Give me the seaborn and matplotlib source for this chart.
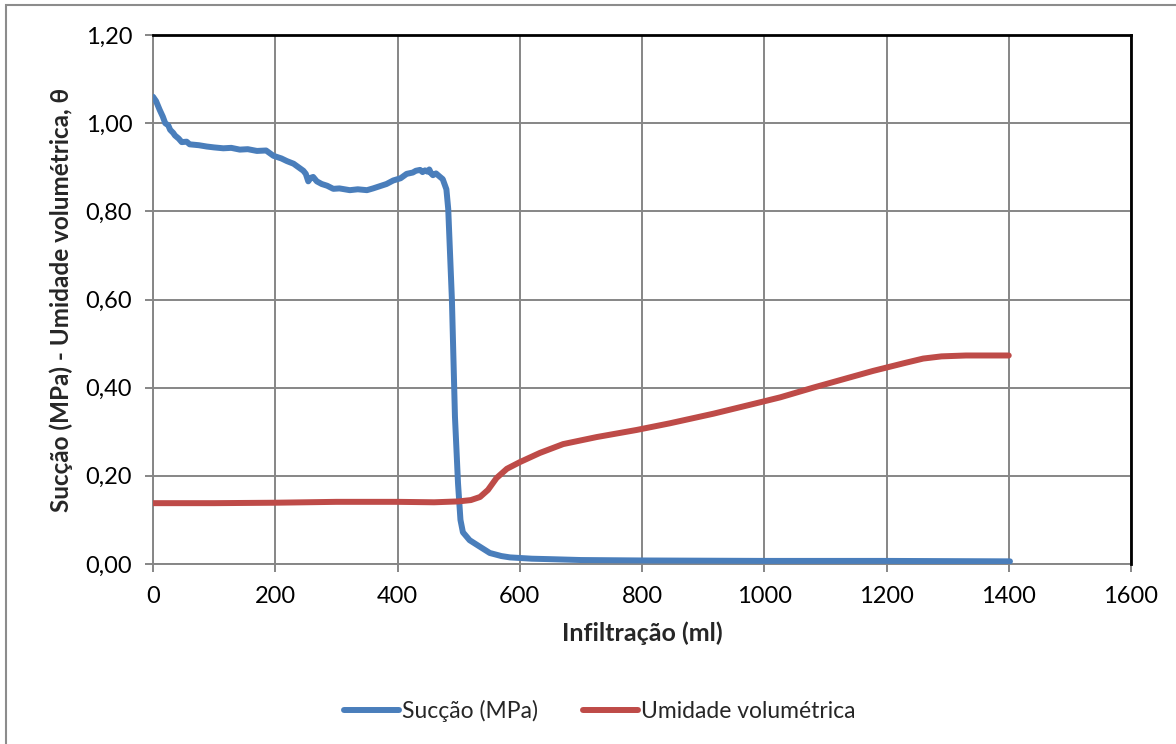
import matplotlib
matplotlib.use("Agg")
import matplotlib.pyplot as plt
from matplotlib.ticker import FuncFormatter
from matplotlib.lines import Line2D
from matplotlib.patches import Rectangle
import pandas as pd
import seaborn as sns

# Suction curve (MPa) versus infiltrated volume (ml)
infiltracao_succao = [0, 5, 11, 16, 20, 25, 28, 33, 36, 42, 47, 55, 60, 75, 88, 100, 115,
                      128, 142, 155, 170, 185, 197, 210, 219, 230, 240, 246, 250, 254,
                      258, 262, 268, 276, 285, 295, 305, 322, 335, 350, 360, 371, 382,
                      393, 405, 415, 425, 430, 437, 441, 445, 449, 452, 455, 458, 463,
                      468, 474, 480, 483, 489, 494, 499, 503, 507, 518, 535, 551, 570,
                      584, 620, 649, 700, 800, 1000, 1200, 1402]
succao = [1.06, 1.05, 1.03, 1.015, 1.00, 0.995, 0.985, 0.978, 0.972, 0.965, 0.957,
          0.958, 0.952, 0.950, 0.947, 0.945, 0.943, 0.944, 0.940, 0.941, 0.937, 0.938,
          0.926, 0.920, 0.914, 0.908, 0.898, 0.892, 0.885, 0.868, 0.876, 0.878, 0.868,
          0.862, 0.858, 0.851, 0.852, 0.848, 0.850, 0.848, 0.852, 0.857, 0.862, 0.870,
          0.875, 0.885, 0.888, 0.892, 0.894, 0.889, 0.893, 0.890, 0.895, 0.886, 0.882,
          0.886, 0.880, 0.873, 0.850, 0.805, 0.600, 0.334, 0.183, 0.100, 0.072, 0.054,
          0.039, 0.025, 0.018, 0.015, 0.012, 0.011, 0.009, 0.008, 0.007, 0.007, 0.006]

# Volumetric water content versus infiltrated volume (ml)
infiltracao_umidade = [0, 100, 200, 300, 400, 460, 500, 520, 535, 548, 562, 579, 600,
                       633, 671, 726, 791, 845, 917, 985, 1026, 1080, 1178, 1230, 1260,
                       1290, 1330, 1400]
umidade = [0.138, 0.138, 0.139, 0.141, 0.141, 0.140, 0.142, 0.145, 0.152, 0.168, 0.195,
           0.216, 0.231, 0.252, 0.272, 0.288, 0.304, 0.319, 0.341, 0.364, 0.378, 0.400,
           0.438, 0.456, 0.466, 0.471, 0.473, 0.473]

serie_nomes = ["Sucção (MPa)", "Umidade volumétrica"]
cores = ["#4A7EBB", "#BE4B48"]

x_ticks = [0, 200, 400, 600, 800, 1000, 1200, 1400, 1600]
y_ticks = [0.0, 0.2, 0.4, 0.6, 0.8, 1.0, 1.2]

df = pd.concat([
    pd.DataFrame({"x": infiltracao_succao, "y": succao, "serie": serie_nomes[0]}),
    pd.DataFrame({"x": infiltracao_umidade, "y": umidade, "serie": serie_nomes[1]}),
], ignore_index=True)

sns.set_theme(style="white")
plt.rcParams["font.family"] = ["Lato", "DejaVu Sans"]

fig = plt.figure(figsize=(11.76, 7.44), dpi=100)
ax = fig.add_axes([153 / 1176, 1 - 564 / 744, (1131 - 153) / 1176, (564 - 35) / 744])

# Chart-area border
fig.patches.append(Rectangle((6 / 1176, -0.1), 1.2, 1 - 5 / 744 + 0.1,
                             transform=fig.transFigure, fill=False,
                             edgecolor="#8c8c8c", linewidth=1.5, zorder=0))

lw = 4.3
sns.lineplot(data=df, x="x", y="y", hue="serie", palette=cores, hue_order=serie_nomes,
             linewidth=lw, sort=False, estimator=None, legend=False, ax=ax,
             solid_capstyle="round", solid_joinstyle="round", zorder=3)

ax.set_xlim(0, 1600)
ax.set_ylim(0, 1.2)
ax.set_xticks(x_ticks)
ax.set_yticks(y_ticks)
ax.yaxis.set_major_formatter(FuncFormatter(lambda v, p: f"{v:.2f}".replace(".", ",")))
ax.xaxis.set_major_formatter(FuncFormatter(lambda v, p: f"{int(v)}"))

ax.grid(True, color="#868686", linewidth=1.4)
ax.set_axisbelow(True)
for s in ["left", "bottom"]:
    ax.spines[s].set_color("#868686")
    ax.spines[s].set_linewidth(1.4)
for s in ["top", "right"]:
    ax.spines[s].set_color("#000000")
    ax.spines[s].set_linewidth(2.0)
    ax.spines[s].set_zorder(4)

ax.tick_params(axis="both", which="major", direction="out", length=6, width=1.4,
               color="#868686", labelsize=17, labelcolor="black")
ax.tick_params(axis="y", pad=9, left=True)
ax.tick_params(axis="x", pad=10, bottom=True)

ax.set_xlabel("Infiltração (ml)", fontsize=18, fontweight="bold", labelpad=10)
ax.set_ylabel("Sucção (MPa) - Umidade volumétrica, θ", fontsize=17.5, fontweight="bold",
              labelpad=9)

handles = [Line2D([0], [0], color=c, linewidth=lw) for c in cores]
fig.legend(handles, serie_nomes, loc="center", bbox_to_anchor=(0.51, 1 - 711 / 744),
           ncol=2, frameon=False, fontsize=16.5, handlelength=2.4, handletextpad=0.1,
           columnspacing=2.0)

fig.savefig("out.png", dpi=100)
